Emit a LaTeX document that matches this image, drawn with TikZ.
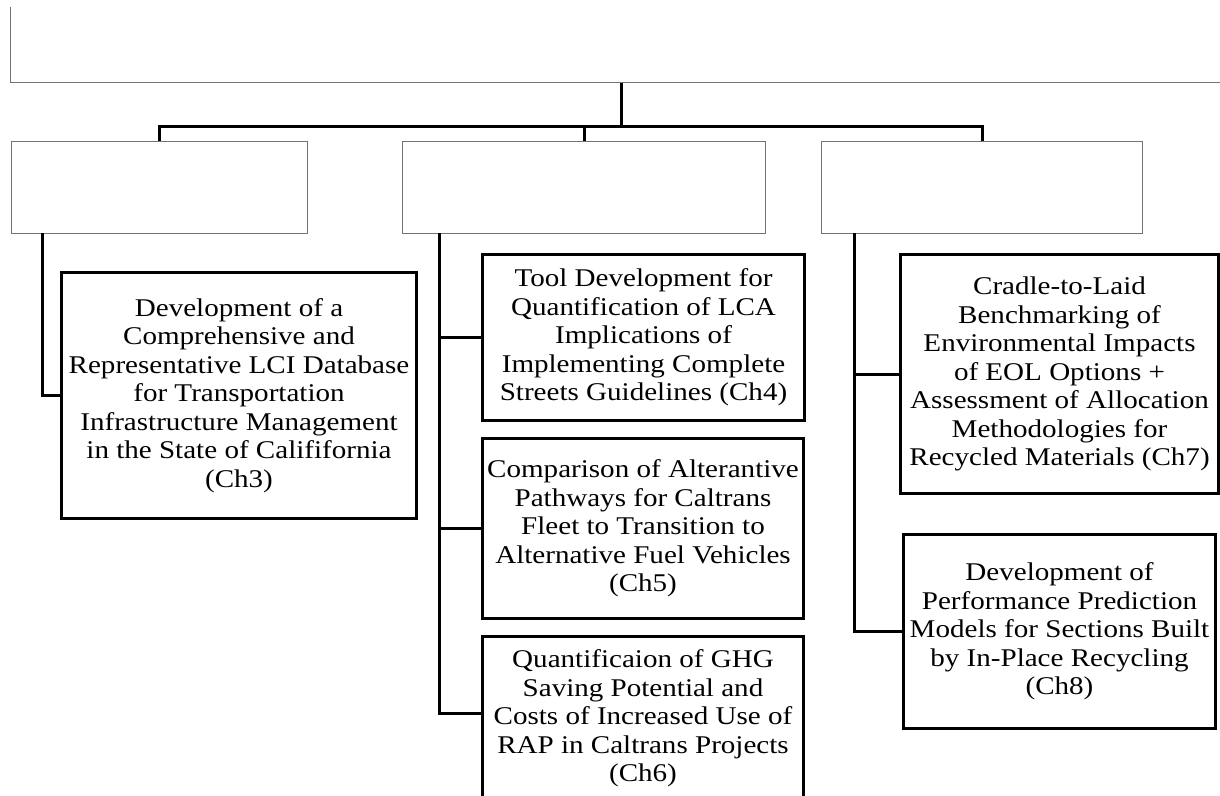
\documentclass[tikz,border=0pt]{standalone}
\usepackage{fontspec}
\setmainfont{Liberation Serif}[FakeStretch=1.14]
\definecolor{frame}{gray}{0.45}
\begin{document}
\begin{tikzpicture}[x=1pt,y=-1pt,
  rootbox/.style={draw=frame, line width=1.2pt, inner sep=0pt, anchor=south west,
    minimum width=1260pt, minimum height=120pt},
  groupbox/.style={draw=frame, line width=1.1pt, inner sep=0pt, anchor=north west,
    minimum height=92pt},
  leaf/.style={draw=black, line width=3pt, inner sep=0pt, align=center, anchor=north west,
    font=\fontsize{25.5}{28.5}\selectfont},
  link/.style={draw=black, line width=3pt, line join=miter}]
\useasboundingbox (0,0) rectangle (1220,795);
\clip (0,0) rectangle (1220,795);

% top-level frame, running past the upper and right edges
\begin{scope}
  \clip (0,7) rectangle (1220,795);
  \node[rootbox] (root) at (10,83) {};
\end{scope}

% three group boxes
\node[groupbox, minimum width=296pt] (g1) at (11,141) {};
\node[groupbox, minimum width=363pt] (g2) at (402,141) {};
\node[groupbox, minimum width=321pt] (g3) at (821,141) {};

% chapter boxes
\node[leaf, minimum width=355pt, minimum height=246pt] (c3) at (60,271)
  {Development of a\\Comprehensive and\\Representative LCI Database\\for Transportation\\Infrastructure Management\\in the State of Calififornia\\(Ch3)};
\node[leaf, minimum width=322pt, minimum height=166pt] (c4) at (481,253)
  {Tool Development for\\Quantification of LCA\\Implications of\\Implementing Complete\\Streets Guidelines (Ch4)};
\node[leaf, minimum width=321pt, minimum height=180pt] (c5) at (481,437)
  {Comparison of Alterantive\\Pathways for Caltrans\\Fleet to Transition to\\Alternative Fuel Vehicles\\(Ch5)};
\node[leaf, minimum width=321pt, minimum height=164pt] (c6) at (481,635)
  {Quantificaion of GHG\\Saving Potential and\\Costs of Increased Use of\\RAP in Caltrans Projects\\(Ch6)};
\node[leaf, minimum width=318pt, minimum height=239pt] (c7) at (899,253)
  {Cradle-to-Laid\\Benchmarking of\\Environmental Impacts\\of EOL Options +\\Assessment of Allocation\\Methodologies for\\Recycled Materials (Ch7)};
\node[leaf, minimum width=312pt, minimum height=194pt] (c8) at (902,533)
  {Development of\\Performance Prediction\\Models for Sections Built\\by In-Place Recycling\\(Ch8)};

% trunk and bus
\coordinate (bus) at (621,126);
\draw[link] (root.south -| bus) -- (bus);
\draw[link] (g1.north) -- (g1.north |- bus) -- (g3.north |- bus) -- (g3.north);
\draw[link] (g2.north) -- (g2.north |- bus);

% branches to chapter boxes
\coordinate (s1) at (42,233);
\coordinate (s2) at (439,233);
\coordinate (s3) at (854,233);
\draw[link] (s1) |- (c3.west);
\draw[link] (s2) |- ([yshift=-78pt]c6.north west);
\draw[link] (s2 |- c4.west) -- (c4.west);
\draw[link] (s2 |- c5.west) -- (c5.west);
\draw[link] (s3) |- (c8.west);
\draw[link] (s3 |- c7.west) -- (c7.west);
\end{tikzpicture}
\end{document}
